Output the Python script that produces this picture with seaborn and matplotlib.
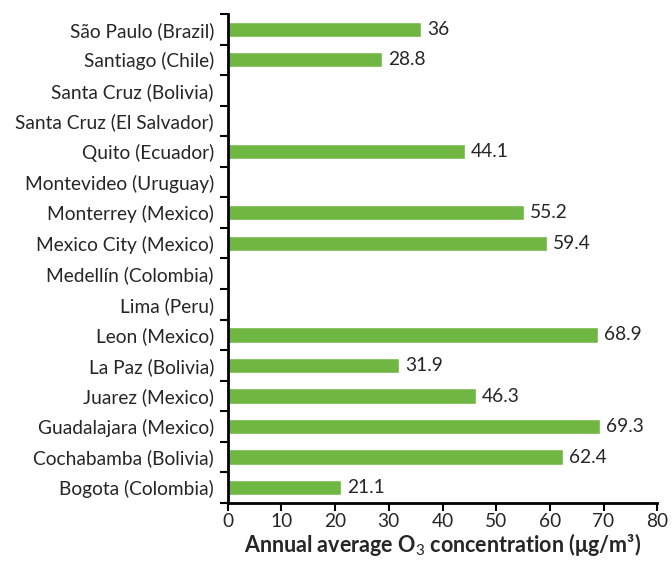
import numpy as np
import pandas as pd
import seaborn as sns
import matplotlib
matplotlib.use("Agg")
import matplotlib.pyplot as plt
from matplotlib.ticker import FixedLocator

cities = ["São Paulo (Brazil)", "Santiago (Chile)", "Santa Cruz (Bolivia)",
          "Santa Cruz (El Salvador)", "Quito (Ecuador)", "Montevideo (Uruguay)",
          "Monterrey (Mexico)", "Mexico City (Mexico)", "Medellín (Colombia)",
          "Lima (Peru)", "Leon (Mexico)", "La Paz (Bolivia)", "Juarez (Mexico)",
          "Guadalajara (Mexico)", "Cochabamba (Bolivia)", "Bogota (Colombia)"]
o3 = [36, 28.8, np.nan, np.nan, 44.1, np.nan, 55.2, 59.4, np.nan, np.nan,
      68.9, 31.9, 46.3, 69.3, 62.4, 21.1]
xticks = [0, 10, 20, 30, 40, 50, 60, 70, 80]

sns.set_theme(style="white")
plt.rcParams['font.family'] = ['Lato', 'DejaVu Sans']
plt.rcParams['mathtext.fontset'] = 'custom'
plt.rcParams['mathtext.rm'] = 'Lato'
plt.rcParams['mathtext.bf'] = 'Lato:bold'

df = pd.DataFrame({"city": cities, "o3": o3})
txt = "#262626"
fs = 13.8

fig = plt.figure(figsize=(6.72, 5.63), dpi=100)
ax = fig.add_axes([0.339, 0.1066, 0.639, 0.8686])
sns.barplot(data=df, y="city", x="o3", order=cities, orient="h",
            color="#70B642", saturation=1, width=0.5, ax=ax, errorbar=None)

for i, v in enumerate(o3):
    if not np.isnan(v):
        ax.text(v + 1.1, i, f"{v:g}", va="center", ha="left", fontsize=fs, color=txt)

ax.set_xlim(0, 80)
ax.set_ylim(len(cities) - 0.5, -0.5)
ax.set_xticks(xticks)
ax.set_xticklabels([str(t) for t in xticks], fontsize=fs, color=txt)
ax.set_yticks(range(len(cities)))
ax.set_yticklabels(cities, fontsize=fs, color=txt)
ax.yaxis.set_minor_locator(FixedLocator(np.arange(-0.5, len(cities), 1.0)))
ax.tick_params(axis="y", which="major", length=0, pad=10)
ax.tick_params(axis="y", which="minor", length=6, width=1.5, color="black", left=True)
ax.tick_params(axis="x", which="major", length=6, width=1.5, color="black", bottom=True, pad=1)
ax.set_ylabel("")
ax.set_xlabel(r"Annual average O$_3$ concentration (μg/m³)", fontsize=15.5,
              fontweight="bold", color=txt, labelpad=1)
for s in ["top", "right"]:
    ax.spines[s].set_visible(False)
for s in ["left", "bottom"]:
    ax.spines[s].set_color("black")
    ax.spines[s].set_linewidth(2)
ax.grid(False)

fig.savefig("out.png", dpi=100)
